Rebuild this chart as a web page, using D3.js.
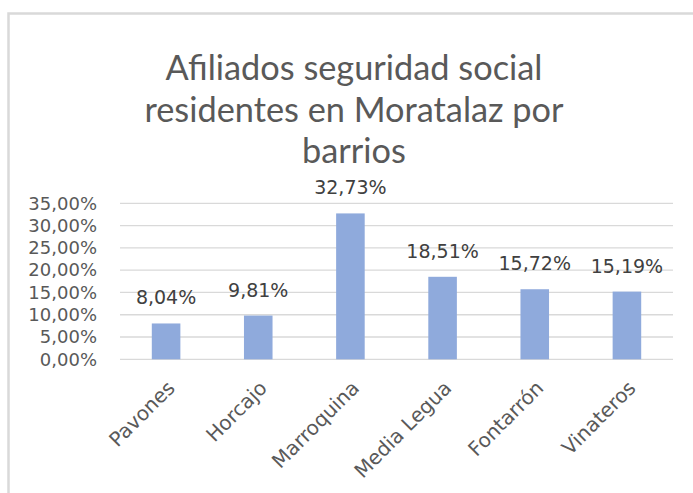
<!DOCTYPE html>
<html><head><meta charset="utf-8">
<script src="https://cdn.jsdelivr.net/npm/d3@7"></script>
<style>
html,body{margin:0;padding:0;background:#fff;}
svg{display:block;}
text{font-family:Lato,"Open Sans","Liberation Sans",sans-serif;}
.lbl{font-family:"DejaVu Sans","Open Sans",sans-serif;}
</style></head>
<body>
<script>
const categories = ["Pavones","Horcajo","Marroquina","Media Legua","Fontarrón","Vinateros"];
const values = [8.04, 9.81, 32.73, 18.51, 15.72, 15.19];
const yTicks = [0,5,10,15,20,25,30,35];
const titleLines = ["Afiliados seguridad social","residentes en Moratalaz por","barrios"];

const W = 693, H = 493;
const svg = d3.select("body").append("svg").attr("width",W).attr("height",H);
svg.append("rect").attr("width",W).attr("height",H).attr("fill","#fff");
// chart border
svg.append("rect").attr("x",8.5).attr("y",13.5).attr("width",W+20).attr("height",H+20)
  .attr("fill","none").attr("stroke","#d9d9d9").attr("stroke-width",2.5);

const m = {left:120, right:673, top:203.3, bottom:359.3};
const x = d3.scaleBand().domain(categories).range([m.left,m.right]).paddingInner(0.69).paddingOuter(0.345);
const y = d3.scaleLinear().domain([0,35]).range([m.bottom,m.top]);

// title
const title = svg.append("g");
titleLines.forEach((t,i)=>{
  title.append("text").attr("x",354).attr("y",80+i*41.7).attr("text-anchor","middle")
    .attr("fill","#595959").attr("font-size",36).text(t);
});
const t0 = title.select("text").node();
const w0 = t0.getComputedTextLength();
const fs = 36*Math.min(1.2, 377/w0);
title.selectAll("text").attr("font-size",fs);

// gridlines
svg.append("g").selectAll("line").data(yTicks).join("line")
  .attr("x1",m.left).attr("x2",m.right).attr("y1",d=>y(d)).attr("y2",d=>y(d))
  .attr("stroke","#d9d9d9").attr("stroke-width",1.3);

// y axis
const yAxis = d3.axisLeft(y).tickValues(yTicks).tickSize(0).tickPadding(0)
  .tickFormat(d=>d3.format(".2f")(d).replace(".",",")+"%");
const ya = svg.append("g").attr("transform",`translate(97,0)`).call(yAxis);
ya.select(".domain").remove();
ya.selectAll("text").attr("class","lbl").attr("fill","#595959").attr("font-size",18).attr("font-family",null);

// bars
svg.append("g").selectAll("rect").data(values).join("rect")
  .attr("x",(d,i)=>x(categories[i])).attr("width",x.bandwidth())
  .attr("y",d=>y(d)).attr("height",d=>y(0)-y(d)).attr("fill","#8faadc");

// data labels
svg.append("g").selectAll("text").data(values).join("text")
  .attr("class","lbl")
  .attr("x",(d,i)=>x(categories[i])+x.bandwidth()/2).attr("y",d=>y(d)-19)
  .attr("text-anchor","middle").attr("fill","#404040").attr("font-size",19)
  .text(d=>d3.format(".2f")(d).replace(".",",")+"%");

// x axis labels
const xAxis = d3.axisBottom(x).tickSize(0).tickPadding(0);
const xa = svg.append("g").attr("transform",`translate(0,${m.bottom})`).call(xAxis);
xa.select(".domain").remove();
xa.selectAll("text").attr("class","lbl").attr("fill","#595959").attr("font-size",20).attr("font-family",null)
  .attr("text-anchor","end").attr("dy",null).attr("y",0)
  .attr("transform","translate(10,30) rotate(-45)");
</script>
</body></html>
